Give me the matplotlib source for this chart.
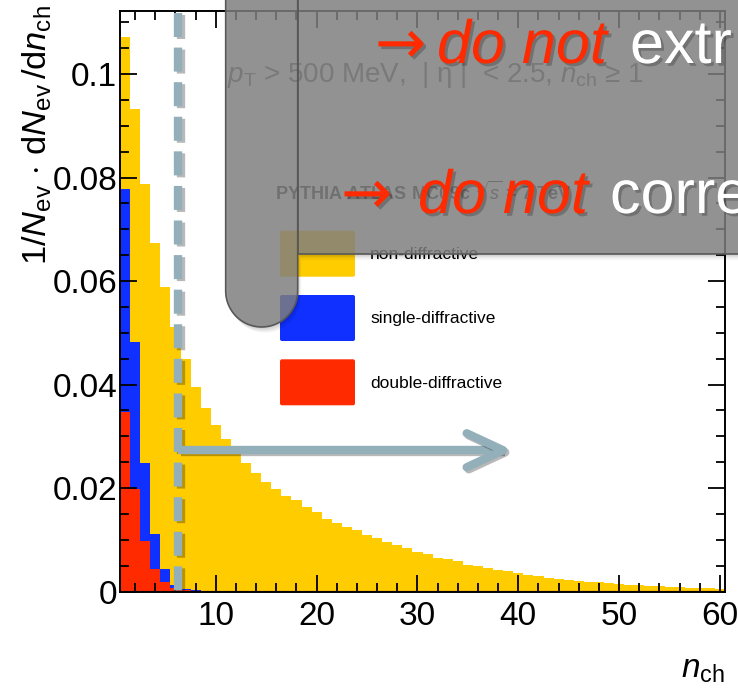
import numpy as np
import matplotlib
matplotlib.use("Agg")
import matplotlib.pyplot as plt
from matplotlib.path import Path
from matplotlib.patches import PathPatch, FancyBboxPatch
from matplotlib.transforms import Affine2D
import matplotlib.patheffects as pe

W, H, DPI = 738, 688, 100
plt.rcParams['font.family'] = ['Liberation Sans', 'DejaVu Sans']
plt.rcParams['mathtext.fontset'] = 'custom'
plt.rcParams['mathtext.rm'] = 'Liberation Sans'
plt.rcParams['mathtext.it'] = 'Liberation Sans:italic'
plt.rcParams['mathtext.bf'] = 'Liberation Sans:bold'
plt.rcParams['lines.scale_dashes'] = False

# ---- data: PYTHIA MC09c charged multiplicity, split by process ----
n_ch = np.arange(1, 61)
non_diffractive = [
    0.0293, 0.0450, 0.0539, 0.0562, 0.0544, 0.0500, 0.0444, 0.0394, 0.0355, 0.0322,
    0.0294, 0.0268, 0.0248, 0.0230, 0.0212, 0.0198, 0.0185, 0.0176, 0.0163, 0.0154,
    0.0141, 0.0133, 0.0124, 0.0118, 0.0110, 0.0103, 0.0095, 0.0089, 0.0084, 0.0076,
    0.0073, 0.0065, 0.0062, 0.0058, 0.0052, 0.0049, 0.0045, 0.0041, 0.0039, 0.0035,
    0.0031, 0.0029, 0.0026, 0.0024, 0.0022, 0.0020, 0.0019, 0.0018, 0.0016, 0.0015,
    0.0013, 0.0012, 0.0011, 0.0010, 0.0009, 0.0008, 0.0007, 0.0006, 0.0006, 0.0005,
]
single_diffractive = [0.0431, 0.0284, 0.0150, 0.0069, 0.0026, 0.0006, 0.0003, 0.0002]
double_diffractive = [0.0347, 0.0199, 0.0098, 0.0043, 0.0018, 0.0006, 0.0002]
categories = ['non-diffractive', 'single-diffractive', 'double-diffractive']
colors = ['#ffcc00', '#1030ff', '#ff2a00']

x_ticks = [10, 20, 30, 40, 50, 60]
x_ticklabels = ['10', '20', '30', '40', '50', '60']
y_ticks = [0, 0.02, 0.04, 0.06, 0.08, 0.1]
y_ticklabels = ['0', '0.02', '0.04', '0.06', '0.08', '0.1']
cut_nch = 6.3
arrow_end = 38.5
arrow_level = 0.0273

nd = np.asarray(non_diffractive)
sd = np.pad(single_diffractive, (0, len(n_ch) - len(single_diffractive)))
dd = np.pad(double_diffractive, (0, len(n_ch) - len(double_diffractive)))
edges = np.append(n_ch - 0.5, n_ch[-1] + 0.5)

fig = plt.figure(figsize=(W / DPI, H / DPI), dpi=DPI)
fig.patch.set_facecolor('white')
# image-pixel transform (origin top-left, y downward)
PX = Affine2D().scale(1, -1).translate(0, H)

ax = fig.add_axes([120 / W, 1 - 591.5 / H, 605 / W, 580.5 / H])
ax.set_xlim(0.5, 60.5)
ax.set_ylim(0, 0.1122)

# stacked histogram, drawn back-to-front as cumulative fills
ax.stairs(dd + sd + nd, edges, baseline=0, fill=True, color=colors[0], lw=0)
ax.stairs(dd + sd, edges, baseline=0, fill=True, color=colors[1], lw=0)
ax.stairs(dd, edges, baseline=0, fill=True, color=colors[2], lw=0)
ax.axhline(0, color='#a01a3c', lw=1.6, zorder=2.5)

for s in ax.spines.values():
    s.set_linewidth(1.4)
    s.set_zorder(3)
ax.set_xticks(x_ticks)
ax.set_xticklabels(x_ticklabels)
ax.set_xticks(np.arange(2, 61, 2), minor=True)
ax.set_yticks(y_ticks)
ax.set_yticklabels(y_ticklabels)
ax.set_yticks(np.arange(0, 0.112, 0.005), minor=True)
ax.tick_params(which='both', direction='in', top=True, right=True, width=1.3,
               labelsize=24, colors='black')
ax.tick_params(which='major', length=12.5)
ax.tick_params(which='minor', length=6.5)
ax.tick_params(axis='y', pad=2)
ax.tick_params(axis='x', pad=7)

# cut line and arrow
cut_col = '#93b0ba'
shadow = [pe.SimpleLineShadow(offset=(1.5, -1.5), alpha=0.28, shadow_color='k'), pe.Normal()]
ax.plot([cut_nch, cut_nch], [0.1118, -0.0005], color=cut_col, lw=6,
        dashes=(17.3, 7.6), solid_capstyle='butt', dash_capstyle='butt',
        clip_on=False, zorder=4, path_effects=shadow)
ax.plot([cut_nch, arrow_end], [arrow_level, arrow_level], color=cut_col, lw=6,
        solid_capstyle='butt', zorder=4, path_effects=shadow)
tip = ax.transData.transform((arrow_end, arrow_level))
inv = ax.transData.inverted()
arm_up = inv.transform(tip + np.array([-36.5, 17.0]))
arm_dn = inv.transform(tip + np.array([-36.5, -17.0]))
ax.plot([arm_up[0], arrow_end, arm_dn[0]], [arm_up[1], arrow_level, arm_dn[1]],
        color=cut_col, lw=6, solid_capstyle='round', solid_joinstyle='round',
        zorder=4, path_effects=shadow)

# axis titles
fig.text(37, 5, r'$1/N_{\mathrm{ev}}\,\cdot\,\mathrm{d}N_{\mathrm{ev}}\,/\mathrm{d}n_{\mathrm{ch}}$',
         transform=PX, rotation=90, ha='center', va='top', fontsize=24.8)
fig.text(725, 678, r'$n_{\mathrm{ch}}$', transform=PX, ha='right', va='baseline', fontsize=24)

# selection text and generator label
fig.text(227, 82, r'$p_{\mathrm{T}}$ > 500 MeV,  | η |  < 2.5, $n_{\mathrm{ch}}$ ≥ 1',
         transform=PX, fontsize=20, color='#646464', va='baseline', zorder=4)
fig.text(275, 200, r'PYTHIA ATLAS MC09c $\sqrt{s}$ = 7 TeV', transform=PX,
         fontsize=13, fontweight='bold', color='#2a2a2a', va='baseline', zorder=4)

# legend
for i, (lab, col) in enumerate(zip(categories, colors)):
    top = 230.7 + i * 64.3
    box = FancyBboxPatch((280, top), 75, 46, boxstyle='round,pad=0,rounding_size=2',
                         transform=PX, facecolor=col, edgecolor='none', zorder=4)
    fig.add_artist(box)
    fig.text(370, top + 24, lab, transform=PX, fontsize=12.5, va='center',
             color='black', zorder=4)

# translucent grey callout
def shape_patch(verts, **kw):
    codes = [Path.MOVETO] + [Path.LINETO] * (len(verts) - 2) + [Path.CLOSEPOLY]
    return PathPatch(Path(verts, codes), transform=PX, **kw)

t = np.linspace(np.pi, 0, 41)
narrow = [(225.7, -30)] + [(261.7 + 36 * np.cos(a), 291 + 36 * np.sin(a)) for a in t] \
         + [(297.7, -30), (225.7, -30)]
wide = [(297.7, -30), (297.7, 254), (780, 254), (780, -30), (297.7, -30)]
for verts in (narrow, wide):
    for k in range(4):
        sh = [(x + 1.0 + k * 0.8, y + 2.0 + k * 1.2) for x, y in verts]
        fig.add_artist(shape_patch(sh, facecolor='black', edgecolor='none',
                                   alpha=0.045, zorder=9))
for verts in (narrow, wide):
    fig.add_artist(shape_patch(verts, facecolor=(131 / 255,) * 3, alpha=0.81,
                               edgecolor='none', zorder=10))
    fig.add_artist(shape_patch(verts, facecolor='none', edgecolor='#585858',
                               lw=1.2, zorder=10.5))

# callout text
txt_fx = [pe.withSimplePatchShadow(offset=(2.0, -2.0), shadow_rgbFace='black', alpha=0.22)]
red = '#ff2a00'
lines = [(63, 375, 437, 630, 'extr'), (213, 341, 418, 610, 'corre')]
for base, xa, xd, xw, word in lines:
    fig.text(xa, base, '→', transform=PX, fontsize=44, color=red, va='baseline',
             family='DejaVu Sans', zorder=12, path_effects=txt_fx)
    fig.text(xd, base, 'do not', transform=PX, fontsize=44, color=red, style='italic',
             va='baseline', zorder=12, path_effects=txt_fx)
    fig.text(xw, base, word, transform=PX, fontsize=44, color='white', va='baseline',
             zorder=12, path_effects=txt_fx)

fig.savefig('out.png', dpi=DPI)
